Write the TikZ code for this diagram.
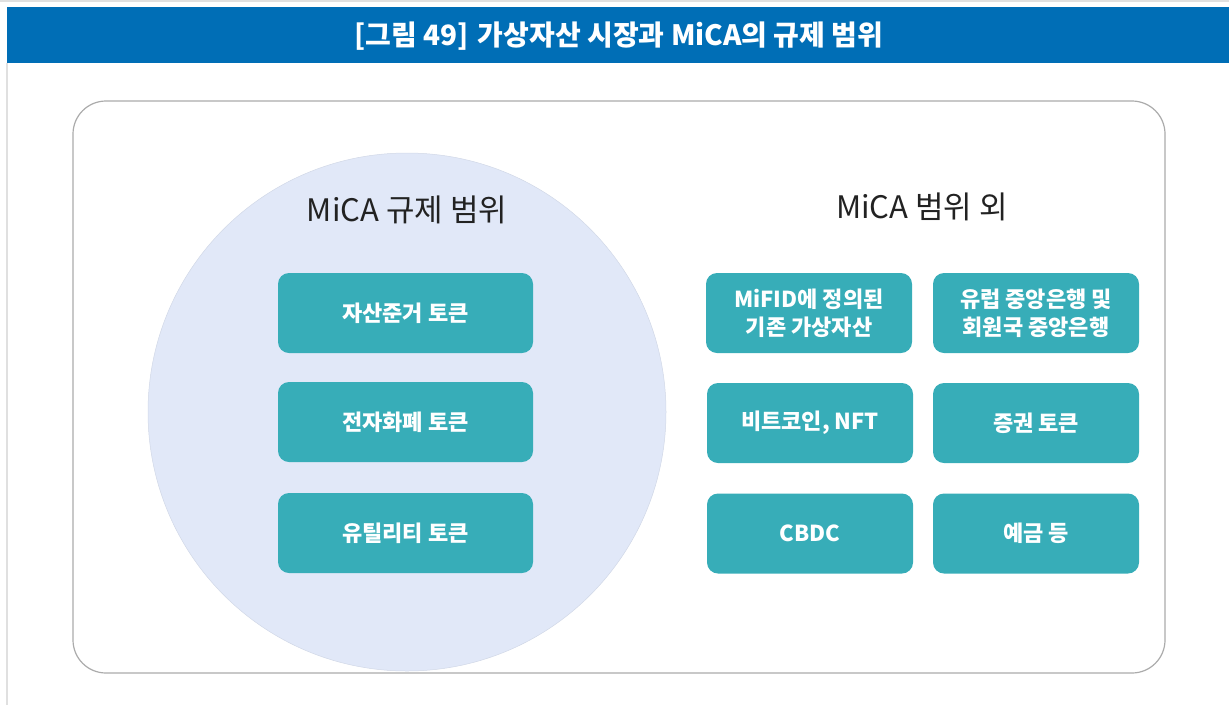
\documentclass[tikz,border=0pt]{standalone}
\usepackage{fontspec}
\setmainfont{Noto Sans CJK KR}
\definecolor{micablue}{HTML}{006EB6}
\definecolor{micateal}{HTML}{37ADB8}
\definecolor{micacircle}{HTML}{E1E8F8}
\definecolor{micaframe}{HTML}{ABABAB}
\definecolor{micaink}{HTML}{222222}
\tikzset{
  tokenbox/.style={fill=micateal,rounded corners=11pt,text=white,
    font=\fontsize{22}{28}\selectfont\bfseries,align=center,
    minimum height=80pt,inner sep=0pt},
  leftbox/.style={tokenbox,minimum width=255pt},
  rightbox/.style={tokenbox,minimum width=206pt},
  scopetitle/.style={font=\fontsize{31}{36}\selectfont,text=micaink}
}
\begin{document}
\begin{tikzpicture}[x=1pt,y=-1pt]
    \path[use as bounding box] (0,0) rectangle (1229,705);

    % Page edges and the blue caption bar.
    \draw[black!12,line width=2pt] (0,1) -- (1229,1);
    \draw[black!12,line width=2pt] (7,63) -- (7,705);
    \fill[micablue] (7,7) rectangle (1229,63);
    \node[text=white,font=\fontsize{28}{32}\selectfont\bfseries] (caption) at (619,36)
      {[그림\hspace{6pt}49]\hspace{3pt} 가상자산 시장과 MiCA의 규제 범위};

    % Rounded frame holding both scopes.
    \draw[micaframe,line width=1.2pt,rounded corners=33pt] (73,101) rectangle (1165,673);

    % Inside the regulation: a pale circle with three token types.
    \fill[micacircle,draw=micacircle!93!black,line width=.5pt] (407,412) circle (259pt);
    \node[scopetitle] (inscope) at (407,210) {MiCA 규제 범위};
    \node[leftbox] (assetref) at (405.5,313) {자산준거 토큰};
    \node[leftbox] (emoney) at (405.5,422) {전자화폐 토큰};
    \node[leftbox] (utility) at (405.5,533) {유틸리티 토큰};

    % Outside the regulation: two columns of boxes.
    \node[scopetitle] (outscope) at (922,207) {MiCA 범위 외};
    \node[rightbox] (mifid) at (809,313) {MiFID에 정의된\\기존 가상자산};
    \node[rightbox] (ecb) at (1036,313) {유럽 중앙은행 및\\회원국 중앙은행};
    \node[rightbox] (bitcoin) at (810,423) {비트코인, NFT};
    \node[rightbox] (security) at (1036,423) {증권 토큰};
    \node[rightbox] (cbdc) at (810,533.5) {CBDC};
    \node[rightbox] (deposit) at (1036,533.5) {예금 등};
  \end{tikzpicture}
\end{document}
